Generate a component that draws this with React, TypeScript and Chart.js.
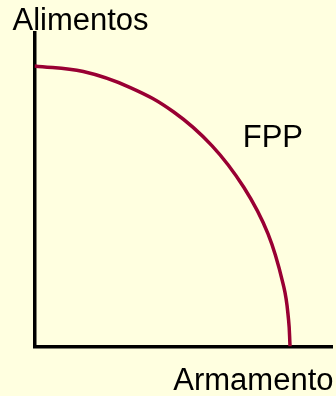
import React, { useEffect, useRef } from "react";
import { Chart, registerables } from "chart.js";

Chart.register(...registerables);

// FPP curve (percent of each axis)
const armamento = [0, 16.4, 32.2, 46.8, 59.7, 70.4, 78.5, 83.8, 85.4, 85.9];
const alimentos = [89.5, 87.7, 82.6, 74.8, 64.0, 50.7, 35.9, 19.0, 8.5, 0];

const yAxisLabel = "Alimentos";
const xAxisLabel = "Armamento";
const curveLabel = "FPP";

const BG = "#FFFFE0";
const CURVE = "#990033";

const labelsPlugin = {
  id: "fppLabels",
  beforeDraw(chart: any) {
    const { ctx, width, height } = chart;
    ctx.save();
    ctx.fillStyle = BG;
    ctx.fillRect(0, 0, width, height);
    ctx.restore();
  },
  afterDraw(chart: any) {
    const { ctx } = chart;
    const xs = chart.scales.x;
    const ys = chart.scales.y;
    ctx.save();
    ctx.fillStyle = "#000";
    ctx.font = '31px "Liberation Sans", Arial, sans-serif';
    ctx.textBaseline = "alphabetic";
    ctx.textAlign = "left";
    ctx.fillText(yAxisLabel, 12.5, ys.top - 3);
    ctx.fillText(curveLabel, xs.getPixelForValue(70), ys.getPixelForValue(63.5));
    ctx.textAlign = "right";
    ctx.fillText(xAxisLabel, xs.right + 1.5, ys.bottom + 43.5);
    ctx.restore();
  },
};

export default function App() {
  const ref = useRef<HTMLCanvasElement>(null);
  useEffect(() => {
    document.body.style.margin = "0";
    document.body.style.background = BG;
    const chart = new Chart(ref.current!, {
      type: "scatter",
      data: {
        datasets: [
          {
            data: armamento.map((x, i) => ({ x, y: alimentos[i] })),
            showLine: true,
            borderColor: CURVE,
            borderWidth: 3.5,
            pointRadius: 0,
            tension: 0.4,
            fill: false,
          },
        ],
      },
      options: {
        animation: false,
        responsive: false,
        maintainAspectRatio: false,
        layout: { padding: { left: 34.5, top: 33, right: 4, bottom: 49.5 } },
        plugins: { legend: { display: false }, tooltip: { enabled: false } },
        scales: {
          x: {
            type: "linear",
            min: 0,
            max: 100,
            grid: { display: false, drawTicks: false },
            ticks: { display: false },
            border: { display: true, color: "#000", width: 3.5 },
          },
          y: {
            type: "linear",
            min: 0,
            max: 100,
            grid: { display: false, drawTicks: false },
            ticks: { display: false },
            border: { display: true, color: "#000", width: 3.5 },
          },
        },
      },
      plugins: [labelsPlugin],
    });
    return () => chart.destroy();
  }, []);
  return (
    <div style={{ width: 336, height: 396 }}>
      <canvas ref={ref} width={336} height={396} style={{ display: "block" }} />
    </div>
  );
}
